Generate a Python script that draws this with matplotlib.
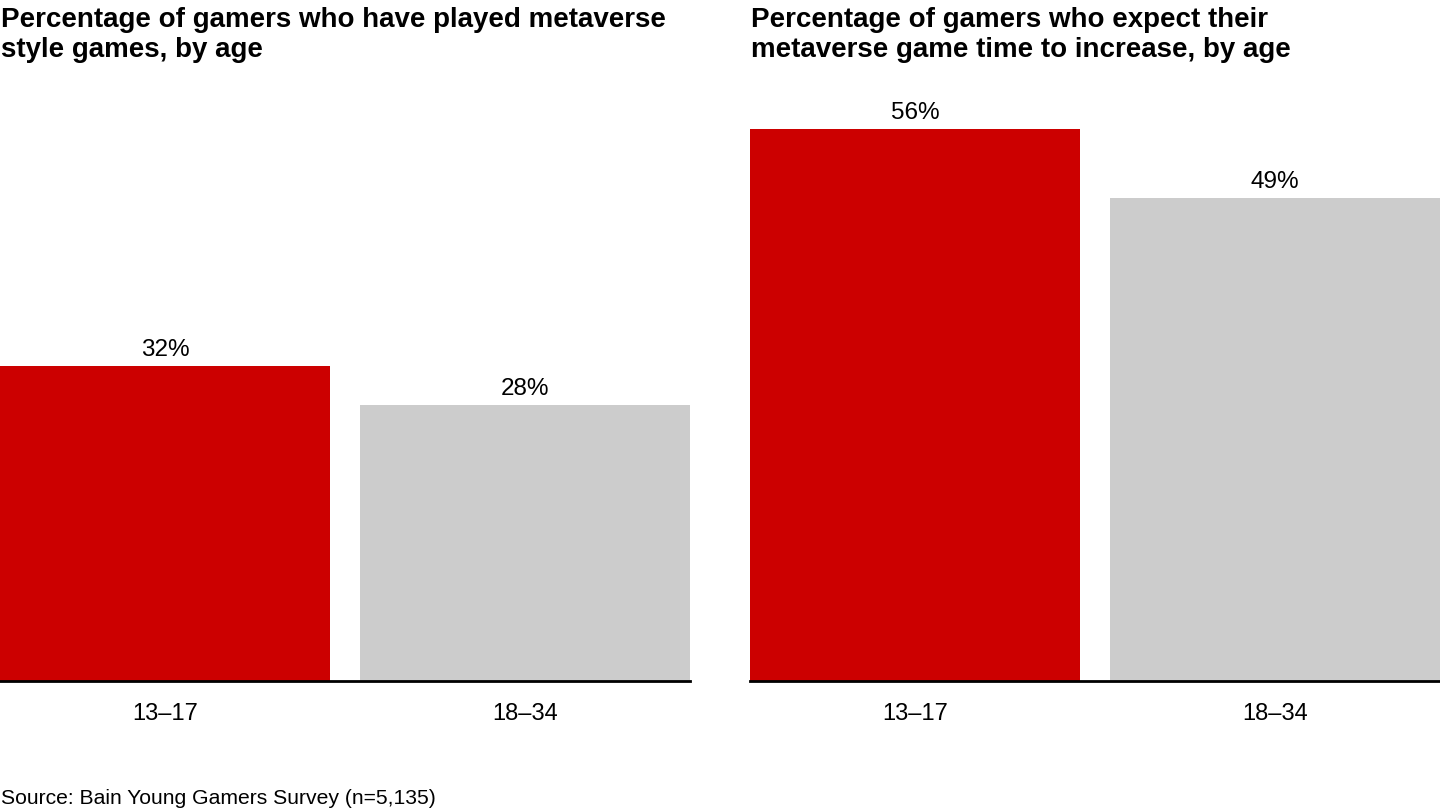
import matplotlib
matplotlib.use("Agg")
import matplotlib.pyplot as plt

plt.rcParams['font.family'] = ['Liberation Sans', 'DejaVu Sans']

categories = ["13\u201317", "18\u201334"]
played = [32, 28]
expect_increase = [56, 49]
titles = ["Percentage of gamers who have played metaverse\nstyle games, by age",
          "Percentage of gamers who expect their\nmetaverse game time to increase, by age"]
source = "Source: Bain Young Gamers Survey (n=5,135)"

colors = ["#CC0000", "#CCCCCC"]

W, H = 1440, 810
fig = plt.figure(figsize=(W / 100, H / 100), dpi=100)

base_y = 681
px_per_unit = 9.857
ymax = 60
ax_h = ymax * px_per_unit
ax_w = 690
lefts = [0, 750]

for left, vals, title in zip(lefts, [played, expect_increase], titles):
    ax = fig.add_axes([left / W, 1 - base_y / H, ax_w / W, ax_h / H])
    x = list(range(len(categories)))
    ax.bar(x, vals, width=330 / 360, color=colors, edgecolor='none')
    ax.set_xlim(-0.5 * 330 / 360, 1 + 0.5 * 330 / 360)
    ax.set_ylim(0, ymax)
    for spine in ['top', 'left', 'right']:
        ax.spines[spine].set_visible(False)
    ax.spines['bottom'].set_linewidth(2)
    ax.spines['bottom'].set_color('black')
    ax.set_yticks([])
    ax.set_xticks(x)
    ax.set_xticklabels(categories, fontsize=17)
    ax.tick_params(axis='x', length=0, pad=16)
    for xi, v in zip(x, vals):
        ax.annotate(f"{v}%", xy=(xi, v), xytext=(0, 10), textcoords='offset pixels',
                    ha='center', va='baseline', fontsize=17.5)
    fig.text((left + 1) / W, 1 - 7 / H, title, ha='left', va='top',
             fontsize=20, fontweight='bold', linespacing=1.2)

fig.text(1 / W, 1 - 808 / H, source, ha='left', va='bottom', fontsize=15.25)

fig.savefig("out.png", dpi=100)
